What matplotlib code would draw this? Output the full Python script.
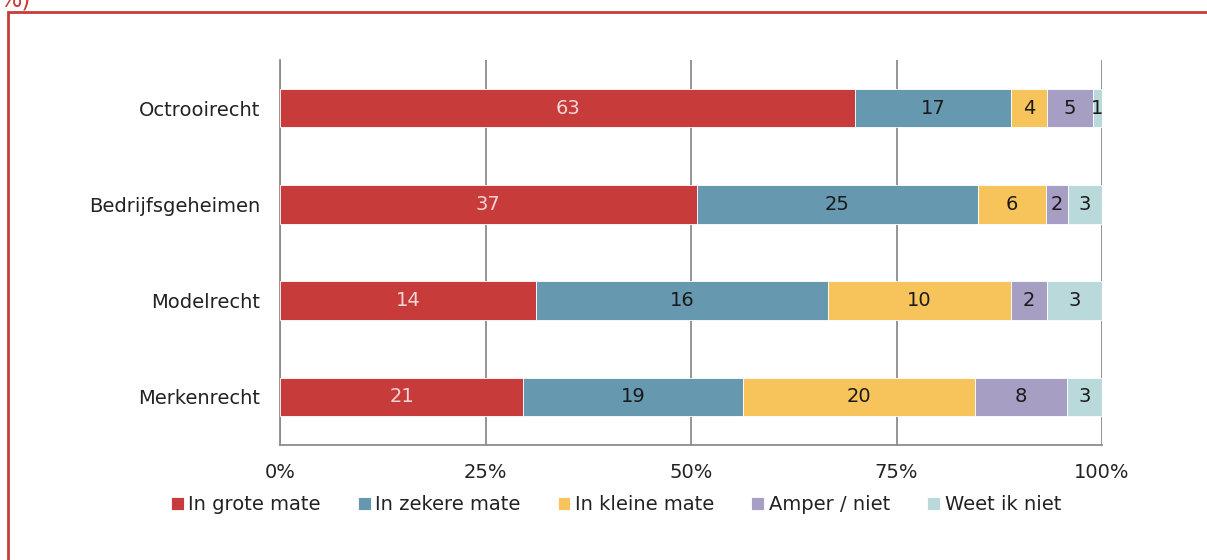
import matplotlib
matplotlib.use("Agg")
import matplotlib.pyplot as plt
from matplotlib.patches import Rectangle
import numpy as np

categories = ["Octrooirecht", "Bedrijfsgeheimen", "Modelrecht", "Merkenrecht"]
series_names = ["In grote mate", "In zekere mate", "In kleine mate", "Amper / niet", "Weet ik niet"]
grote = [63, 37, 14, 21]
zekere = [17, 25, 16, 19]
kleine = [4, 6, 10, 20]
amper = [5, 2, 2, 8]
weet = [1, 3, 3, 3]
tick_labels = ["0%", "25%", "50%", "75%", "100%"]

colors = ["#C73C3B", "#6698B0", "#F7C45B", "#A79FC3", "#BAD9DB"]
label_colors = ["#F2D6D6", "#1a1a1a", "#1a1a1a", "#1a1a1a", "#1a1a1a"]

plt.rcParams['font.family'] = ['DejaVu Sans']

fig = plt.figure(figsize=(12.07, 5.6), dpi=100)
ax = fig.add_axes([280/1207, 1-445/560, 822/1207, 385/560])

data = np.array([grote, zekere, kleine, amper, weet], dtype=float)
totals = data.sum(axis=0)
pct = data / totals * 100
y = np.arange(len(categories))
left = np.zeros(len(categories))
for i, name in enumerate(series_names):
    bars = ax.barh(y, pct[i], left=left, height=0.4, color=colors[i], label=name,
                   edgecolor="white", linewidth=0.6, zorder=3)
    for j, b in enumerate(bars):
        ax.text(left[j] + pct[i][j] / 2, y[j], f"{int(data[i][j])}", ha="center", va="center",
                fontsize=14, color=label_colors[i], zorder=4)
    left += pct[i]

ax.set_ylim(3.5, -0.5)
ax.set_xlim(0, 100)
ax.set_xticks([0, 25, 50, 75, 100])
ax.set_xticklabels(tick_labels, fontsize=14, color="#222222")
ax.set_yticks(y)
ax.set_yticklabels(categories, fontsize=14, color="#222222")
ax.tick_params(axis="y", length=0, pad=14)
ax.tick_params(axis="x", length=0, pad=13)
ax.grid(axis="x", color="#8c8c8c", linewidth=1.3, zorder=0)
for s in ["top", "right"]:
    ax.spines[s].set_visible(False)
for s in ["left", "bottom"]:
    ax.spines[s].set_color("#8c8c8c")
    ax.spines[s].set_linewidth(1.3)

leg = fig.legend(loc="center", bbox_to_anchor=(616/1207, 1-505/560), ncol=5, frameon=False,
                 fontsize=14, handlelength=0.65, handleheight=0.65, handletextpad=0.25,
                 columnspacing=1.9, labelcolor="#222222")

# red frame
fig.patches.append(Rectangle((8/1207, -0.1), 1.2, (560-12)/560 + 0.1, transform=fig.transFigure,
                             fill=False, edgecolor="#C73C3B", linewidth=2, clip_on=False))
fig.text(0/1207, 1-0/560, "%)", color="#C73C3B", fontsize=17, ha="left", va="center")

fig.savefig("out.png", dpi=100)
